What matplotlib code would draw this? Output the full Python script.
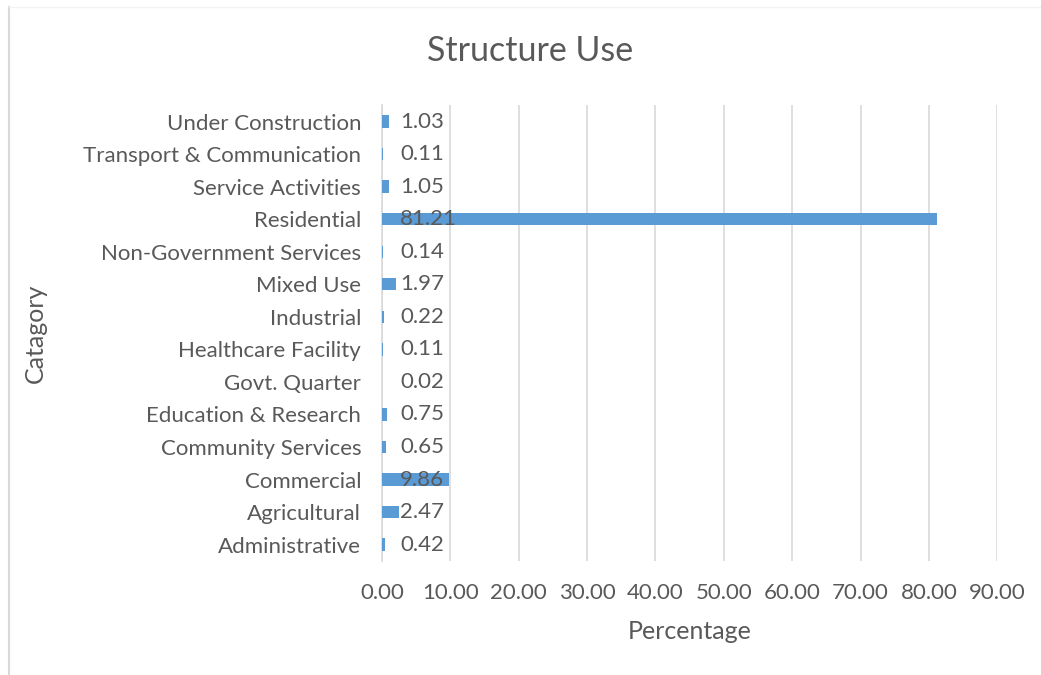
import numpy as np
import matplotlib.pyplot as plt
from matplotlib.lines import Line2D

# --- données (de bas en haut) ---
categories = ["Administrative", "Agricultural", "Commercial", "Community Services",
              "Education & Research", "Govt. Quarter", "Healthcare Facility",
              "Industrial", "Mixed Use", "Non-Government Services", "Residential",
              "Service Activities", "Transport & Communication", "Under Construction"]
percentages = [0.42, 2.47, 9.86, 0.65, 0.75, 0.02, 0.11, 0.22, 1.97, 0.14,
               81.21, 1.05, 0.11, 1.03]
x_ticks = [0, 10, 20, 30, 40, 50, 60, 70, 80, 90]

TXT = "#595959"
GRID = "#D9D9D9"
BLEU = "#5B9BD5"

plt.rcParams['font.family'] = ['Lato', 'DejaVu Sans']

fig = plt.figure(figsize=(10.41, 6.75), dpi=100)
ax = fig.add_axes([0.367, 0.169, 0.591, 0.675])

y = np.arange(len(categories))
ax.barh(y, percentages, height=0.38, color=BLEU, zorder=3)

# étiquettes de valeur (position fixe, comme dans Excel)
for yi, v in zip(y, percentages):
    ax.annotate(f"{v:.2f}", xy=(0, yi), xytext=(18, 0), textcoords='offset pixels',
                va='center', ha='left', fontsize=16, color=TXT, zorder=4)

ax.set_xlim(0, 90)
ax.set_ylim(-0.5, len(categories) - 0.5)
ax.set_xticks(x_ticks)
ax.set_xticklabels([f"{t:.2f}" for t in x_ticks])
ax.set_yticks(y)
ax.set_yticklabels(categories)
ax.tick_params(axis='both', length=0, labelsize=16, colors=TXT)
ax.tick_params(axis='x', pad=16)
ax.tick_params(axis='y', pad=15)

ax.grid(axis='x', color=GRID, linewidth=1.2, zorder=0)
for s in ['top', 'right', 'bottom']:
    ax.spines[s].set_visible(False)
ax.spines['left'].set_color(GRID)
ax.spines['left'].set_linewidth(1.2)

ax.set_xlabel("Percentage", fontsize=18, color=TXT, labelpad=12)
fig.text(0.034, 0.506, "Catagory", rotation=90, fontsize=18, color=TXT,
         ha='center', va='center')
fig.text(0.509, 0.925, "Structure Use", fontsize=24.5, color=TXT,
         ha='center', va='center')

# bordure de la zone du graphique
fig.add_artist(Line2D([0.009, 0.009], [0, 0.99], color=GRID, lw=1.5))
fig.add_artist(Line2D([0.009, 1.0], [0.99, 0.99], color="#F2F2F2", lw=1.0))

fig.savefig("out.png", dpi=100)
